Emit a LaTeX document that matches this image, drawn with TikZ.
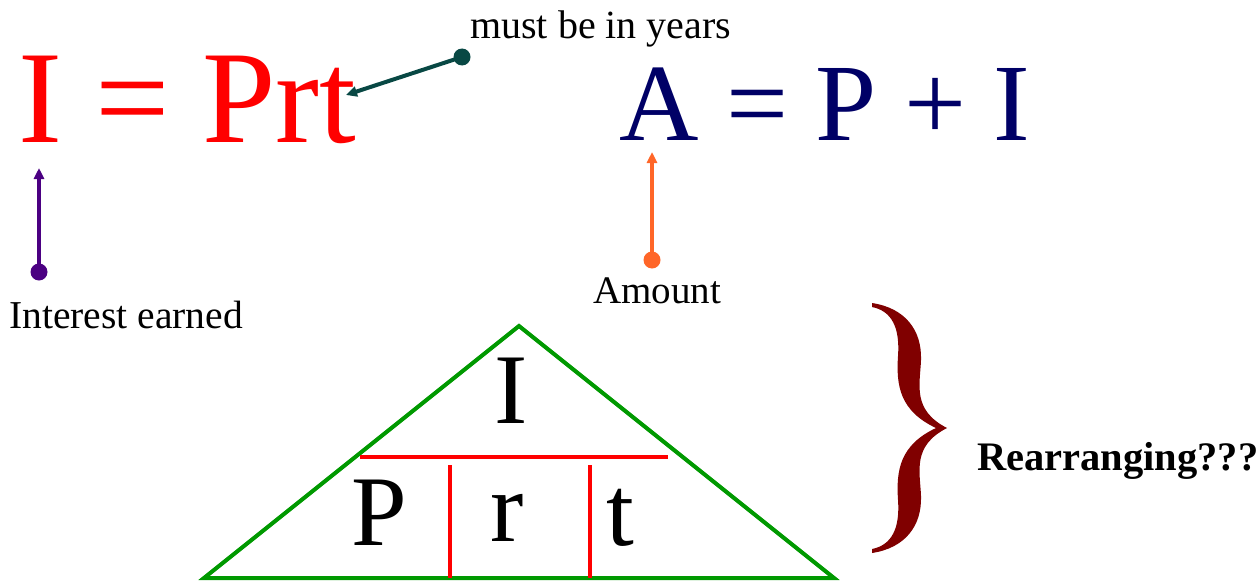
\documentclass[tikz,border=0pt]{standalone}
\usepackage{fontspec}
\setmainfont{Liberation Serif}
\usetikzlibrary{arrows.meta}
\definecolor{eqred}{RGB}{255,0,0}
\definecolor{eqnavy}{RGB}{0,0,102}
\definecolor{tealdark}{RGB}{8,72,68}
\definecolor{purp}{RGB}{75,0,130}
\definecolor{orng}{RGB}{255,102,40}
\definecolor{trigreen}{RGB}{0,153,0}
\definecolor{bracered}{RGB}{128,0,0}
\tikzset{
  txt/.style={inner sep=0pt, anchor=base west},
  lbl/.style={inner sep=0pt, anchor=base, font=\fontsize{100}{100}\selectfont},
  dotnode/.style={circle, fill=#1, inner sep=0pt, minimum size=17pt},
  ptr/.style={line width=4pt, draw=#1, -{Triangle[length=11pt,width=10pt]}},
  redline/.style={draw=eqred, line width=3.5pt}
}
\begin{document}
\begin{tikzpicture}[x=1pt,y=-1pt]
\useasboundingbox (0,0) rectangle (1257,586);
% equations
\node[txt, text=eqred, font=\fontsize{132}{132}\selectfont] (eq1) at (18,142) {I = Prt};
\node[txt, text=eqnavy, font=\fontsize{110}{110}\selectfont] (eq2) at (619,140) {A = P + I};
% labels
\node[txt, font=\fontsize{40}{40}\selectfont] (years) at (470,38) {must be in years};
\node[txt, font=\fontsize{39.5}{39.5}\selectfont] (interest) at (9,328) {Interest earned};
\node[txt, font=\fontsize{39}{39}\selectfont] (amount) at (593,303) {Amount};
\node[txt, font=\bfseries\fontsize{40.5}{40.5}\selectfont] (rearr) at (977,470) {Rearranging???};
% pointers
\node[dotnode=tealdark] (d1) at (462,57) {};
\coordinate (t1) at (346,95);
\draw[ptr=tealdark] (d1.center) -- (t1);
\node[dotnode=purp] (d2) at (39,272) {};
\coordinate (t2) at (39,168);
\draw[ptr=purp] (d2.center) -- (t2);
\node[dotnode=orng] (d3) at (652,260) {};
\coordinate (t3) at (652,152);
\draw[ptr=orng] (d3.center) -- (t3);
% triangle
\coordinate (apex) at (519,326);
\coordinate (bl) at (204,578);
\coordinate (br) at (834,578);
\draw[draw=trigreen, line width=4pt, line join=miter] (apex) -- (br) -- (bl) -- cycle;
\coordinate (h1) at (360,457);
\coordinate (h2) at (668,457);
\draw[redline] (h1) -- (h2);
\coordinate (v1a) at (450,465);
\coordinate (v1b) at (450,578);
\coordinate (v2a) at (590,465);
\coordinate (v2b) at (590,578);
\draw[redline] (v1a) -- (v1b);
\draw[redline] (v2a) -- (v2b);
\node[lbl] (lI) at (511,423) {I};
\node[lbl] (lP) at (379,545) {P};
\node[lbl] (lr) at (507,541) {r};
\node[lbl] (lt) at (620,545) {t};
% brace
\fill[bracered] (872,303) .. controls (905,308) and (922,330) .. (921,360)
 .. controls (920,385) and (912,410) .. (947,428)
 .. controls (912,446) and (920,471) .. (921,496)
 .. controls (922,526) and (905,548) .. (872,553)
 -- (872,549)
 .. controls (892,545) and (900,528) .. (898,500)
 .. controls (896,470) and (900,445) .. (936,428)
 .. controls (900,411) and (896,386) .. (898,356)
 .. controls (900,328) and (892,311) .. (872,307)
 -- cycle;
\end{tikzpicture}
\end{document}
